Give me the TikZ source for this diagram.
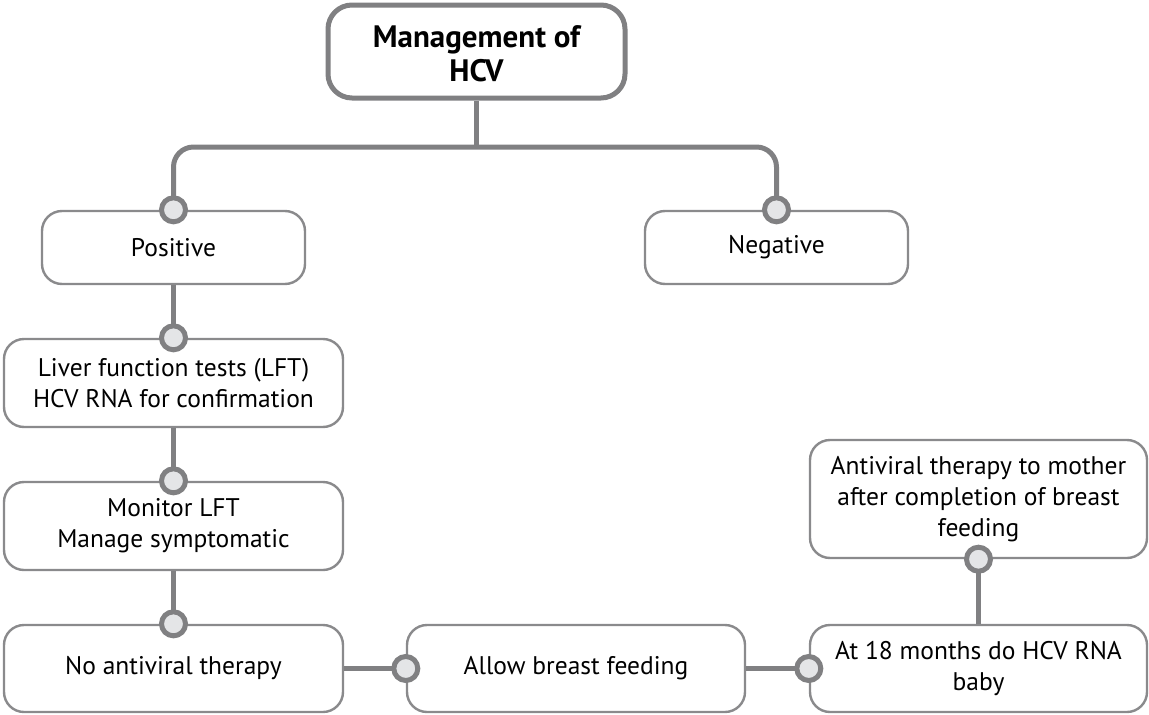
\documentclass[tikz,border=0pt]{standalone}
\usepackage{fontspec}
\setmainfont{PT Sans}
\usetikzlibrary{calc}
\definecolor{edgegray}{HTML}{8A8A8C}
\definecolor{linegray}{HTML}{808082}
\definecolor{dotfill}{HTML}{E4E5E7}
\tikzset{
  x=1pt, y=1pt,
  box/.style={draw=edgegray, line width=2.4pt, rounded corners=20pt, fill=white,
    inner sep=0pt, align=center, font=\fontsize{25.5}{31}\selectfont},
  titlebox/.style={box, line width=5pt, draw=linegray, rounded corners=24pt,
    font=\fontsize{31}{35}\selectfont\bfseries},
  conn/.style={draw=linegray, line width=5pt},
  dot/.style={circle, draw=linegray, line width=5pt, fill=dotfill,
    minimum size=24pt, inner sep=0pt},
}
\begin{document}
\begin{tikzpicture}
\useasboundingbox (0,0) rectangle (1149,-715);

% boxes
\node[titlebox, minimum width=297pt, minimum height=93pt] (top) at (476.5,-51.5)
  {\raisebox{-6pt}[\height][\depth]{\begin{tabular}{@{}c@{}}Management of\\[-1pt]HCV\end{tabular}}};
\node[box, minimum width=263pt, minimum height=73pt] (pos) at (173.5,-247.5) {Positive};
\node[box, minimum width=263pt, minimum height=73pt] (neg) at (776.5,-247.5) {Negative};
\node[box, minimum width=339pt, minimum height=88pt] (lft) at (173.5,-383) {Liver function tests (LFT)\\HCV RNA for confirmation};
\node[box, minimum width=339pt, minimum height=88pt] (mon) at (173.5,-526) {Monitor LFT\\Manage symptomatic};
\node[box, minimum width=339pt, minimum height=87pt] (noav) at (173.5,-668.5) {No antiviral therapy};
\node[box, minimum width=338pt, minimum height=87pt] (allow) at (576,-668.5) {Allow breast feeding};
\node[box, minimum width=337pt, minimum height=87pt] (baby) at (978.5,-668.5) {At 18 months do HCV RNA\\baby};
\node[box, minimum width=337pt, minimum height=118pt] (mother) at (978.5,-499) {Antiviral therapy to mother\\after completion of breast\\feeding};

% connectors
\coordinate (split) at (476.5,-147);
\draw[conn] (top.south) -- (split);
\draw[conn, rounded corners=20pt] (pos.north) |- (split) -| (neg.north);
\draw[conn] (pos.south) -- (lft.north);
\draw[conn] (lft.south) -- (mon.north);
\draw[conn] (mon.south) -- (noav.north);
\draw[conn] (noav.east) -- (allow.west);
\draw[conn] (allow.east) -- (baby.west);
\draw[conn] (baby.north) -- (mother.south);

% junction dots
\node[dot] (d1) at (pos.north) {};
\node[dot] (d2) at (neg.north) {};
\node[dot] (d3) at (lft.north) {};
\node[dot] (d4) at (mon.north) {};
\node[dot] (d5) at (noav.north) {};
\node[dot] (d6) at (allow.west) {};
\node[dot] (d7) at (baby.west) {};
\node[dot] (d8) at (mother.south) {};
\end{tikzpicture}
\end{document}
